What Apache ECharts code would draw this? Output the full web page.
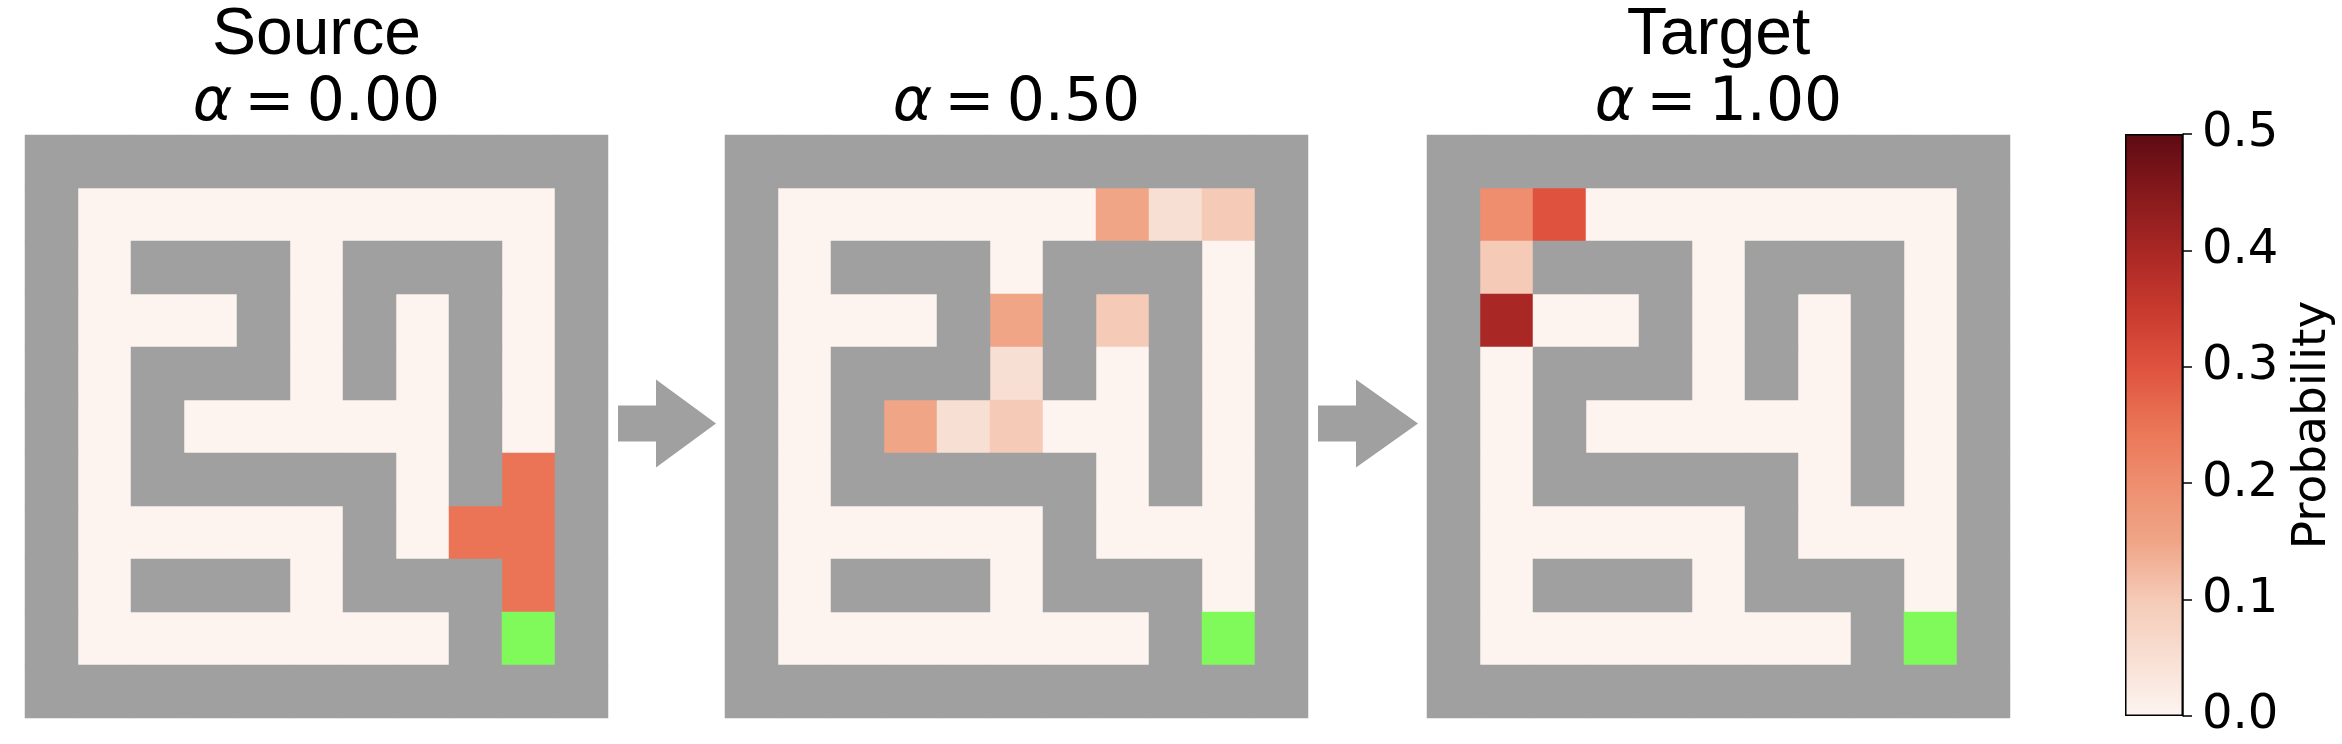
<!DOCTYPE html>
<html>
<head>
<meta charset="utf-8">
<script src="https://cdn.jsdelivr.net/npm/echarts@6/dist/echarts.min.js"></script>
<style>
  html, body { margin: 0; padding: 0; background: #fff; }
  #chart { width: 2342px; height: 744px; }
</style>
</head>
<body>
<div id="chart"></div>
<script>
// ---------------- DATA ----------------
// Maze layout: '#' = wall, '.' = open cell, 'G' = goal cell (rows top -> bottom)
const mazeRows = [
  "###########",
  "#.........#",
  "#.###.###.#",
  "#...#.#.#.#",
  "#.###.#.#.#",
  "#.#.....#.#",
  "#.#####.#.#",
  "#.....#...#",
  "#.###.###.#",
  "#.......#G#",
  "###########"
];
const panelTitles = ["Source", "", "Target"];
const alphaLabels = ["0.00", "0.50", "1.00"];
// Probability per open cell: [row, col, probability]; unlisted open cells are 0
const sourceProbs = [[6, 9, 0.25], [7, 8, 0.25], [7, 9, 0.25], [8, 9, 0.25]];
const midProbs = [
  [1, 7, 0.15], [1, 8, 0.05], [1, 9, 0.10],
  [3, 5, 0.15], [3, 7, 0.10], [4, 5, 0.05],
  [5, 3, 0.15], [5, 4, 0.05], [5, 5, 0.10]
];
const targetProbs = [[1, 1, 0.20], [1, 2, 0.30], [2, 1, 0.10], [3, 1, 0.40]];
const probMin = 0, probMax = 0.5, probTickStep = 0.1;
const colorbarName = "Probability";

// ---------------- STYLE ----------------
const probColors = ["#fdf4f0", "#f8dfd3", "#f5cab7", "#f0a587", "#ee8e6f",
                    "#ea7455", "#df523e", "#c8392e", "#a92724", "#85191c", "#5f0a13"];
const wallColor = "#a0a0a0";
const goalColor = "#80fa5a";
const panelLeft = [25, 725, 1427];
const panelTop = 135, panelSize = 583;
const cbLeft = 2125, cbTop = 134, cbWidth = 58, cbHeight = 582;

// ---------------- BUILD ----------------
const nRows = mazeRows.length, nCols = mazeRows[0].length;
const idxCats = Array.from({ length: nCols }, (_, i) => String(i));
const rowCats = Array.from({ length: nRows }, (_, i) => String(i));
const allProbs = [sourceProbs, midProbs, targetProbs];

function probData(list) {
  const map = {};
  list.forEach(([r, c, p]) => { map[r + "_" + c] = p; });
  const out = [];
  for (let r = 0; r < nRows; r++)
    for (let c = 0; c < nCols; c++)
      if (mazeRows[r][c] === ".") out.push([c, r, map[r + "_" + c] || 0]);
  return out;
}
function wallData() {
  const out = [];
  for (let r = 0; r < nRows; r++)
    for (let c = 0; c < nCols; c++) {
      const ch = mazeRows[r][c];
      if (ch === "#") out.push([c, r, 0]);
      else if (ch === "G") out.push([c, r, 1]);
    }
  return out;
}

const grids = [], xAxes = [], yAxes = [], series = [];
panelLeft.forEach((left, i) => {
  grids.push({ left: left, top: panelTop, width: panelSize, height: panelSize });
  xAxes.push({ type: "category", data: idxCats, gridIndex: i, show: false });
  yAxes.push({ type: "category", data: rowCats, gridIndex: i, show: false, inverse: true });
});
panelLeft.forEach((left, i) => {
  series.push({ type: "heatmap", xAxisIndex: i, yAxisIndex: i, data: probData(allProbs[i]),
                silent: true, emphasis: { disabled: true }, progressive: 0 });
});
panelLeft.forEach((left, i) => {
  series.push({ type: "heatmap", xAxisIndex: i, yAxisIndex: i, data: wallData(),
                silent: true, emphasis: { disabled: true }, progressive: 0 });
});

// colorbar grid
grids.push({ left: cbLeft, top: cbTop, width: cbWidth, height: cbHeight });
xAxes.push({ type: "category", data: ["cb"], gridIndex: 3, show: false });
yAxes.push({
  type: "value", gridIndex: 3, min: probMin, max: probMax, interval: probTickStep, position: "right",
  axisLine: { show: true, lineStyle: { color: "#000", width: 1.5 } },
  axisTick: { show: true, length: 9, lineStyle: { color: "#000", width: 1.5 } },
  splitLine: { show: false },
  axisLabel: { formatter: v => v.toFixed(1), fontSize: 48, fontFamily: "DejaVu Sans", color: "#000", margin: 19 },
  name: colorbarName, nameLocation: "middle", nameRotate: 90, nameGap: 106,
  nameTextStyle: { fontSize: 47, fontFamily: "DejaVu Sans", color: "#000" }
});
const gradStops = probColors.map((c, i) => ({ offset: 1 - i / (probColors.length - 1), color: c })).reverse();
series.push({
  type: "bar", xAxisIndex: 3, yAxisIndex: 3, data: [probMax], barWidth: "100%", silent: true,
  itemStyle: { color: new echarts.graphic.LinearGradient(0, 0, 0, 1, gradStops), borderColor: "#000", borderWidth: 1.5 }
});

// titles and arrows
const graphic = [];
panelLeft.forEach((left, i) => {
  const cx = left + panelSize / 2;
  if (panelTitles[i]) {
    graphic.push({ type: "text", x: cx, y: 36, silent: true,
      style: { text: panelTitles[i], fontSize: 66, fontFamily: "Liberation Sans", fill: "#000",
               textAlign: "center", textVerticalAlign: "middle" } });
  }
  graphic.push({ type: "text", x: cx, y: 104, silent: true,
    style: { text: "{a|α}{s| }{b|=}{s| }{b|" + alphaLabels[i] + "}", fill: "#000",
             textAlign: "center", textVerticalAlign: "middle",
             rich: {
               a: { fontSize: 60, fontFamily: "DejaVu Sans", fontStyle: "italic", fill: "#000" },
               b: { fontSize: 60, fontFamily: "DejaVu Sans", fill: "#000" },
               s: { fontSize: 38, fontFamily: "DejaVu Sans" }
             } } });
});
const cy = panelTop + panelSize / 2 - 3;
for (let i = 0; i < 2; i++) {
  const x0 = panelLeft[i] + panelSize + 10, x1 = x0 + 38, x2 = panelLeft[i + 1] - 9;
  graphic.push({ type: "polygon", silent: true,
    shape: { points: [[x0, cy - 18], [x1, cy - 18], [x1, cy - 44], [x2, cy], [x1, cy + 44], [x1, cy + 18], [x0, cy + 18]] },
    style: { fill: wallColor } });
}

const chart = echarts.init(document.getElementById("chart"), null, { renderer: "canvas" });
chart.setOption({
  backgroundColor: "#fff",
  animation: false,
  grid: grids, xAxis: xAxes, yAxis: yAxes,
  visualMap: [
    { type: "continuous", show: false, min: probMin, max: probMax, seriesIndex: [0, 1, 2],
      inRange: { color: probColors } },
    { type: "piecewise", show: false, seriesIndex: [3, 4, 5],
      pieces: [{ value: 0, color: wallColor }, { value: 1, color: goalColor }] }
  ],
  series: series,
  graphic: graphic
});
</script>
</body>
</html>
